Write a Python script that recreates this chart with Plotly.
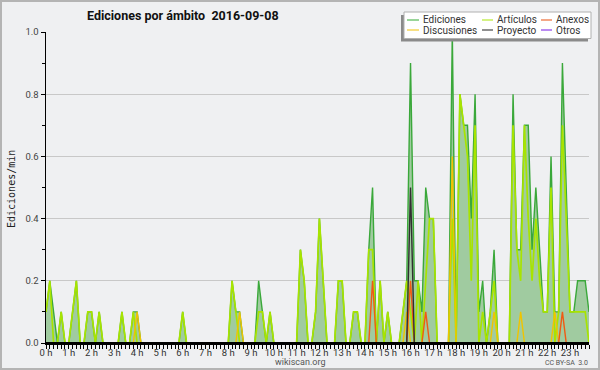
import plotly.graph_objects as go

# ---------------- data (10-minute resolution, edits per minute) ----------------
minutes = list(range(0, 1440, 10))

ediciones = [
    0.1, 0.2, 0.1, 0, 0.1, 0, 0, 0.1, 0.2, 0, 0, 0.1,
    0.1, 0, 0.1, 0, 0, 0, 0, 0, 0.1, 0, 0, 0.1,
    0.1, 0, 0, 0, 0, 0, 0, 0, 0, 0, 0, 0,
    0.1, 0, 0, 0, 0, 0, 0, 0, 0, 0, 0, 0,
    0, 0.2, 0.1, 0.1, 0, 0, 0, 0, 0.2, 0.1, 0, 0.1,
    0, 0, 0, 0, 0, 0, 0, 0.3, 0.2, 0, 0, 0.1,
    0.4, 0.2, 0, 0, 0, 0.2, 0.2, 0, 0, 0.1, 0.1, 0,
    0, 0.3, 0.5, 0, 0.2, 0, 0.1, 0, 0, 0, 0.1, 0.2,
    0.9, 0.2, 0.2, 0.1, 0.5, 0.4, 0.4, 0, 0, 0, 0, 1.0,
    0, 0.8, 0.7, 0.7, 0.4, 0.8, 0.1, 0.2, 0, 0.1, 0.3, 0,
    0, 0, 0, 0.8, 0.3, 0.3, 0.7, 0.7, 0.3, 0.5, 0.3, 0.1,
    0.1, 0.6, 0.1, 0.1, 0.9, 0.5, 0.1, 0.1, 0.2, 0.2, 0.2, 0.1,
]

articulos = [
    0.1, 0.2, 0, 0, 0.1, 0, 0, 0.1, 0.2, 0, 0, 0.1,
    0.1, 0, 0.1, 0, 0, 0, 0, 0, 0.1, 0, 0, 0.1,
    0, 0, 0, 0, 0, 0, 0, 0, 0, 0, 0, 0,
    0.1, 0, 0, 0, 0, 0, 0, 0, 0, 0, 0, 0,
    0, 0.2, 0.1, 0, 0, 0, 0, 0, 0.1, 0.1, 0, 0.1,
    0, 0, 0, 0, 0, 0, 0, 0.3, 0.2, 0, 0, 0.1,
    0.4, 0.2, 0, 0, 0, 0.2, 0.2, 0, 0, 0.1, 0.1, 0,
    0, 0.3, 0.3, 0, 0.2, 0, 0.1, 0, 0, 0, 0.1, 0.2,
    0.1, 0, 0.2, 0, 0.2, 0.4, 0.4, 0, 0, 0, 0, 0.4,
    0, 0.8, 0.7, 0.6, 0.2, 0.7, 0, 0.1, 0, 0.1, 0.2, 0,
    0, 0, 0, 0.7, 0.3, 0.2, 0.7, 0.4, 0.2, 0.4, 0.2, 0.1,
    0.1, 0.5, 0, 0.1, 0.7, 0.4, 0.1, 0.1, 0.1, 0.1, 0.1, 0,
]

anexos = [
    0, 0, 0, 0, 0, 0, 0, 0, 0, 0, 0, 0,
    0, 0, 0, 0, 0, 0, 0, 0, 0, 0, 0, 0,
    0, 0, 0, 0, 0, 0, 0, 0, 0, 0, 0, 0,
    0, 0, 0, 0, 0, 0, 0, 0, 0, 0, 0, 0,
    0, 0, 0, 0, 0, 0, 0, 0, 0, 0, 0, 0,
    0, 0, 0, 0, 0, 0, 0, 0, 0, 0, 0, 0,
    0, 0, 0, 0, 0, 0, 0, 0, 0, 0, 0, 0,
    0, 0, 0.2, 0, 0, 0, 0, 0, 0, 0, 0, 0,
    0.2, 0, 0, 0, 0.1, 0, 0, 0, 0, 0, 0, 0,
    0, 0, 0, 0, 0, 0, 0, 0, 0, 0, 0, 0,
    0, 0, 0, 0, 0, 0, 0, 0, 0, 0, 0, 0,
    0, 0, 0, 0, 0.1, 0, 0, 0, 0, 0, 0, 0,
]

discusiones = [
    0, 0, 0, 0, 0, 0, 0, 0, 0, 0, 0, 0,
    0, 0, 0, 0, 0, 0, 0, 0, 0, 0, 0, 0,
    0.1, 0, 0, 0, 0, 0, 0, 0, 0, 0, 0, 0,
    0, 0, 0, 0, 0, 0, 0, 0, 0, 0, 0, 0,
    0, 0, 0, 0.1, 0, 0, 0, 0, 0, 0, 0, 0,
    0, 0, 0, 0, 0, 0, 0, 0, 0, 0, 0, 0,
    0, 0, 0, 0, 0, 0, 0, 0, 0, 0, 0, 0,
    0, 0, 0, 0, 0, 0, 0, 0, 0, 0, 0, 0.1,
    0, 0, 0, 0, 0, 0, 0, 0, 0, 0, 0, 0.6,
    0, 0, 0, 0, 0, 0, 0, 0, 0, 0, 0.1, 0,
    0, 0, 0, 0, 0, 0.1, 0, 0, 0, 0, 0, 0,
    0, 0, 0.1, 0, 0, 0, 0, 0, 0, 0, 0, 0,
]

proyecto = [
    0, 0, 0, 0, 0, 0, 0, 0, 0, 0, 0, 0,
    0, 0, 0, 0, 0, 0, 0, 0, 0, 0, 0, 0,
    0, 0, 0, 0, 0, 0, 0, 0, 0, 0, 0, 0,
    0, 0, 0, 0, 0, 0, 0, 0, 0, 0, 0, 0,
    0, 0, 0, 0, 0, 0, 0, 0, 0, 0, 0, 0,
    0, 0, 0, 0, 0, 0, 0, 0, 0, 0, 0, 0,
    0, 0, 0, 0, 0, 0, 0, 0, 0, 0, 0, 0,
    0, 0, 0, 0, 0, 0, 0, 0, 0, 0, 0, 0,
    0.5, 0, 0, 0, 0, 0, 0, 0, 0, 0, 0, 0,
    0, 0, 0, 0, 0, 0, 0, 0, 0, 0, 0, 0,
    0, 0, 0, 0, 0, 0, 0, 0, 0, 0, 0, 0,
    0, 0, 0, 0, 0, 0, 0, 0, 0, 0, 0, 0,
]

otros = [
    0, 0, 0, 0, 0, 0, 0, 0, 0, 0, 0, 0,
    0, 0, 0, 0, 0, 0, 0, 0, 0, 0, 0, 0,
    0, 0, 0, 0, 0, 0, 0, 0, 0, 0, 0, 0,
    0, 0, 0, 0, 0, 0, 0, 0, 0, 0, 0, 0,
    0, 0, 0, 0, 0, 0, 0, 0, 0, 0, 0, 0,
    0, 0, 0, 0, 0, 0, 0, 0, 0, 0, 0, 0,
    0, 0, 0, 0, 0, 0, 0, 0, 0, 0, 0, 0,
    0, 0, 0, 0, 0, 0, 0, 0, 0, 0, 0, 0,
    0, 0, 0, 0, 0, 0, 0, 0, 0, 0, 0, 0,
    0, 0, 0, 0, 0, 0, 0, 0, 0, 0, 0, 0,
    0, 0, 0, 0, 0, 0, 0, 0, 0, 0, 0, 0,
    0, 0, 0, 0, 0, 0, 0, 0, 0, 0, 0, 0,
]

hour_ticks = list(range(24))
hour_labels = ["0 h", "1 h", "2 h", "3 h", "4 h", "5 h", "6 h", "7 h", "8 h", "9 h",
               "10 h", "11 h", "12 h", "13 h", "14 h", "15 h", "16 h", "17 h", "18 h",
               "19 h", "20 h", "21 h", "22 h", "23 h"]
y_ticks = [0.0, 0.2, 0.4, 0.6, 0.8, 1.0]
y_labels = ["0.0", "0.2", "0.4", "0.6", "0.8", "1.0"]

title_text = "Ediciones por ámbito\u00a0 2016-09-08"
y_title = "Ediciones/min"

# ---------------- geometry ----------------
W, H = 600, 370
L, R, T, B = 46, 11, 32, 27
PW, PH = W - L - R, H - T - B


def px2x(px):
    return (px - L) / PW


def py2y(py):
    return (H - B - py) / PH


hours = [m / 60 for m in minutes]

series = [
    ("Ediciones", ediciones, "#3aa83a", 1.4),
    ("Artículos", articulos, "#a8e400", 1.7),
    ("Discusiones", discusiones, "#f0c400", 1.4),
    ("Anexos", anexos, "#f05a14", 1.4),
    ("Proyecto", proyecto, "#303030", 1.4),
    ("Otros", otros, "#9a40e8", 1.4),
]

fig = go.Figure()
for name, vals, color, w in series:
    kw = {}
    if name == "Ediciones":
        kw = dict(fill="tozeroy", fillcolor="#a0cba0")
    fig.add_trace(go.Scatter(x=hours, y=vals, name=name, mode="lines",
                             line=dict(color=color, width=w), showlegend=False,
                             hoverinfo="skip", **kw))

bg = "#eff0f2"
fig.update_layout(
    width=W, height=H,
    margin=dict(l=L, r=R, t=T, b=B, autoexpand=False),
    paper_bgcolor=bg, plot_bgcolor=bg,
    font=dict(family="Roboto, DejaVu Sans, sans-serif", color="#333333"),
)

fig.update_xaxes(
    range=[0, minutes[-1] / 60],
    tickmode="array", tickvals=hour_ticks, ticktext=hour_labels,
    ticks="outside", ticklen=4, tickwidth=1, tickcolor="black",
    ticklabelstandoff=-4,
    minor=dict(tickmode="array", tickvals=hours, ticks="outside", ticklen=4,
               tickwidth=1, tickcolor="black", showgrid=False),
    showline=True, linecolor="black", linewidth=1.5,
    showgrid=False, zeroline=False,
    tickfont=dict(size=9.5, color="#333333"),
)
fig.update_yaxes(
    range=[0, 1.0],
    tickmode="array", tickvals=y_ticks, ticktext=y_labels,
    ticks="outside", ticklen=4, tickwidth=1, tickcolor="black",
    minor=dict(dtick=0.1, ticks="outside", ticklen=3, tickwidth=1,
               tickcolor="black", showgrid=False),
    showline=True, linecolor="black", linewidth=1.5,
    showgrid=True, gridcolor="#c8c8c8", gridwidth=1, zeroline=False,
    tickfont=dict(size=9.5, color="#444444"),
)

shapes = []
# baseline over the zero-valued line segments (axis line)
shapes.append(dict(type="line", xref="paper", yref="paper",
                   x0=0, x1=1, y0=0, y1=0,
                   line=dict(color="black", width=2), layer="above"))
# outer frame
shapes.append(dict(type="rect", xref="paper", yref="paper",
                   x0=px2x(1), x1=px2x(599), y0=py2y(369), y1=py2y(1),
                   line=dict(color="#b4b4b4", width=2), layer="above"))
# legend shadow + box
shapes.append(dict(type="rect", xref="paper", yref="paper",
                   x0=px2x(401), x1=px2x(588), y0=py2y(41.5), y1=py2y(15),
                   fillcolor="#8a8a8a", line=dict(width=0), layer="above"))
shapes.append(dict(type="rect", xref="paper", yref="paper",
                   x0=px2x(404), x1=px2x(591), y0=py2y(38.5), y1=py2y(12),
                   fillcolor="#ffffff", line=dict(color="#b0b0b0", width=1), layer="above"))

legend_items = [
    ("Ediciones", "#77c777", 0, 0),
    ("Artículos", "#c6ee5a", 1, 0),
    ("Anexos", "#f08a5e", 2, 0),
    ("Discusiones", "#f6d65a", 0, 1),
    ("Proyecto", "#6a6a6a", 1, 1),
    ("Otros", "#a464ee", 2, 1),
]
col_line = [(407, 419), (482, 493), (541, 552)]
col_text = [422, 496, 555]
row_y = [20, 30]

annotations = []
for name, color, c, r in legend_items:
    y = py2y(row_y[r])
    shapes.append(dict(type="line", xref="paper", yref="paper",
                       x0=px2x(col_line[c][0]), x1=px2x(col_line[c][1]), y0=y, y1=y,
                       line=dict(color=color, width=1.5), layer="above"))
    annotations.append(dict(text=name, xref="paper", yref="paper",
                            x=px2x(col_text[c]), y=y, xanchor="left", yanchor="middle",
                            showarrow=False, borderpad=0,
                            font=dict(size=10, color="#333333",
                                      family="Roboto, sans-serif")))

annotations.append(dict(text="<b>" + title_text + "</b>", xref="paper", yref="paper",
                        x=px2x(85), y=py2y(15), xanchor="left", yanchor="middle",
                        showarrow=False, font=dict(size=12.5, color="#111111",
                                                   family="Roboto, sans-serif")))
annotations.append(dict(text=y_title, xref="paper", yref="paper",
                        x=px2x(11), y=py2y(189), xanchor="center", yanchor="middle",
                        textangle=-90, showarrow=False,
                        font=dict(size=10, color="#222222", family="DejaVu Sans Mono, monospace")))
annotations.append(dict(text="wikiscan.org", xref="paper", yref="paper",
                        x=px2x(300), y=py2y(362), xanchor="center", yanchor="middle",
                        showarrow=False, font=dict(size=9, color="#555555")))
annotations.append(dict(text="CC BY-SA  3.0", xref="paper", yref="paper",
                        x=px2x(590), y=py2y(362.5), xanchor="right", yanchor="middle",
                        showarrow=False, font=dict(size=7, color="#555555")))

fig.update_layout(shapes=shapes, annotations=annotations)
fig.write_html("out.html", config={"displayModeBar": False, "staticPlot": True},
               post_script="document.body.style.margin='0px';"
                           "document.body.style.overflow='hidden';")
